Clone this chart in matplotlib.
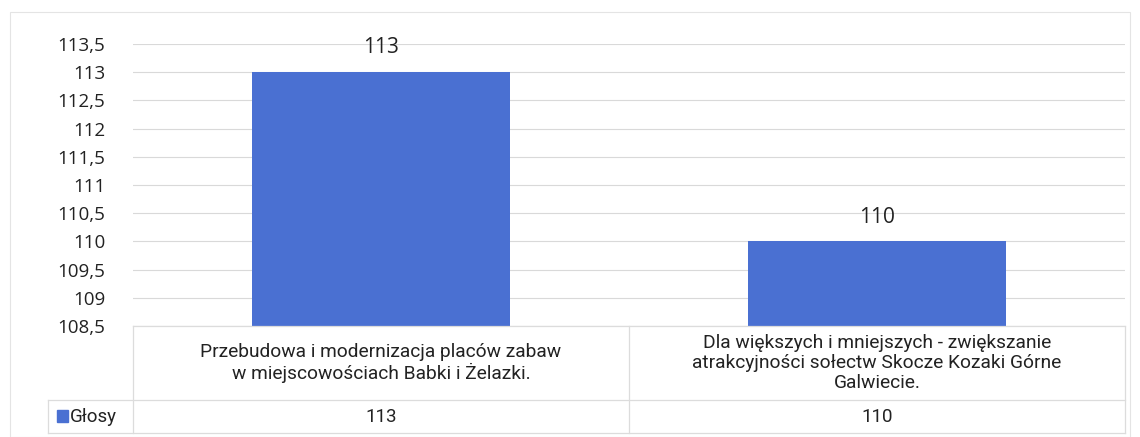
import matplotlib.pyplot as plt
import matplotlib.patches as mpatches

categories = ['Przebudowa i modernizacja placów zabaw\nw miejscowościach Babki i Żelazki.',
              'Dla większych i mniejszych - zwiększanie\natrakcyjności sołectw Skocze Kozaki Górne\nGalwiecie.']
values = [113, 110]
series_name = 'Głosy'
yticks = [108.5, 109, 109.5, 110, 110.5, 111, 111.5, 112, 112.5, 113, 113.5]

bar_color = '#4a70d2'
grid_color = '#d9d9d9'
W, H = 1140, 437

fig = plt.figure(figsize=(W / 100, H / 100), dpi=100)

# outer chart frame
fig.patches.append(mpatches.Rectangle((10 / W, 0), 1120 / W, 1 - 12 / H, transform=fig.transFigure,
                                      fill=False, edgecolor='#e4e4e4', linewidth=0.8))

left, right = 133 / W, 1125 / W
ax = fig.add_axes([left, 1 - 326 / H, right - left, (326 - 44) / H])
x = list(range(len(values)))
ax.bar(x, values, width=0.52, color=bar_color, zorder=3)
ax.set_xlim(-0.5, len(values) - 0.5)
ax.set_ylim(yticks[0], yticks[-1])
ax.set_yticks(yticks)
ax.set_yticklabels([f'{t:g}'.replace('.', ',') for t in yticks], fontsize=13.5,
                   family='Open Sans', color='#222222')
ax.set_xticks([])
ax.tick_params(axis='y', length=0, pad=20)
ax.grid(axis='y', color=grid_color, linewidth=0.8, zorder=0)
for s in ax.spines.values():
    s.set_visible(False)
for xi, v in zip(x, values):
    ax.annotate(f'{v}', (xi, v), xytext=(0, 10), textcoords='offset points',
                ha='center', va='bottom', fontsize=15, family='Open Sans', color='#222222')

# data table below the plot
tab = fig.add_axes([left, 1 - 433 / H, right - left, (433 - 326) / H])
tab.set_xlim(-0.5, len(values) - 0.5)
tab.set_ylim(0, 107)
tab.axis('off')
lx = -0.5 - 85 / 496
line_kw = dict(color='#dcdcdc', linewidth=0.9, clip_on=False)
tab.plot([-0.5, 1.5], [107, 107], **line_kw)
tab.plot([lx, 1.5], [33, 33], **line_kw)
tab.plot([lx, 1.5], [0, 0], **line_kw)
tab.plot([lx, lx], [0, 33], **line_kw)
for bx in [-0.5, 0.5, 1.5]:
    tab.plot([bx, bx], [0, 107], **line_kw)
for xi, (cat, v) in enumerate(zip(categories, values)):
    tab.text(xi, 70, cat, ha='center', va='center', fontsize=13.8, family='Roboto',
             color='#222222', linespacing=1.12)
    tab.text(xi, 16.5, f'{v}', ha='center', va='center', fontsize=13.5, family='Roboto',
             color='#222222')
tab.add_patch(mpatches.Rectangle((lx + 0.018, 11), 0.022, 12, color=bar_color, clip_on=False))
tab.text(lx + 0.045, 16.5, series_name, ha='left', va='center', fontsize=13.5, family='Roboto',
         color='#222222')

fig.savefig('out.png', dpi=100)
